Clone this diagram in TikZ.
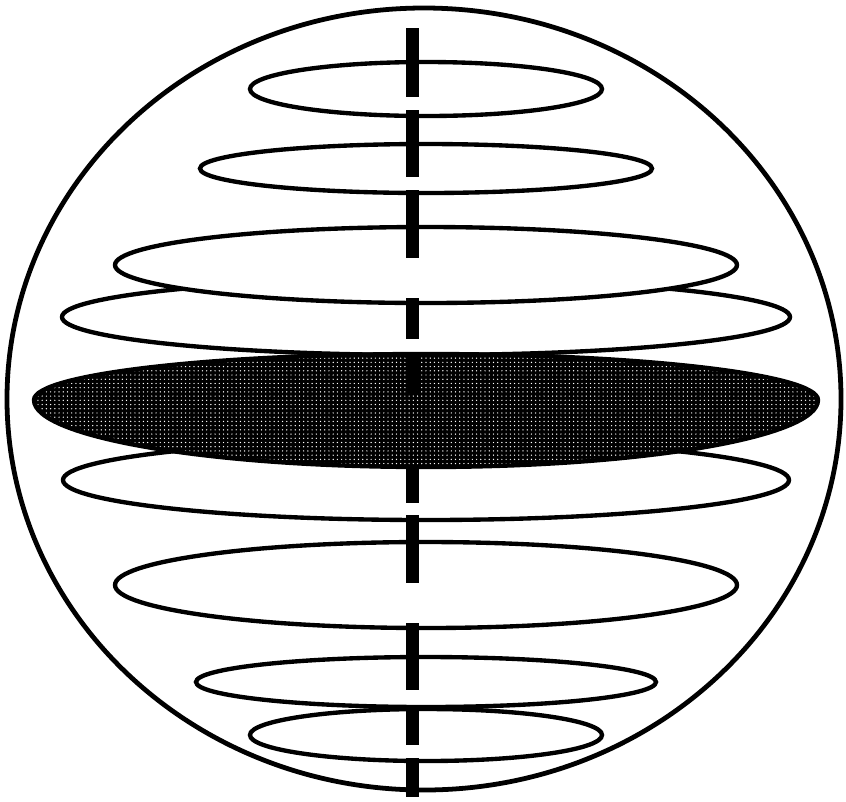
\documentclass[tikz,border=0pt]{standalone}
\usetikzlibrary{patterns}
\tikzset{
  shell/.style={draw,line width=3.4pt},
  ring/.style={draw,fill=white,line width=3.1pt},
  disk/.style={draw,line width=3.1pt,preaction={fill=black},pattern=dots,pattern color=white},
  axisbar/.style={line width=9.2pt}
}
\begin{document}
\begin{tikzpicture}[x=0.25mm,y=-0.25mm]
\useasboundingbox (0,0) rectangle (846,801);
\draw[shell] (424,399) ellipse [x radius=417, y radius=391];
% upper slices
\draw[ring] (426,89) ellipse [x radius=176, y radius=27];
\draw[ring] (426,168.5) ellipse [x radius=226, y radius=24.5];
\draw[ring] (426,317) ellipse [x radius=364, y radius=38];
\draw[ring] (426,265) ellipse [x radius=311, y radius=38];
% lower slices
\draw[ring] (426,480) ellipse [x radius=363, y radius=40];
\draw[ring] (426,585) ellipse [x radius=311, y radius=43];
\draw[ring] (426,735) ellipse [x radius=176, y radius=26];
\draw[ring] (426,682) ellipse [x radius=230, y radius=25];
% equatorial disk
\draw[disk] (34,400) arc[start angle=180,end angle=270,x radius=392,y radius=46]
  arc[start angle=270,end angle=360,x radius=392,y radius=46]
  arc[start angle=0,end angle=90,x radius=392,y radius=67]
  arc[start angle=90,end angle=180,x radius=392,y radius=67] -- cycle;
% axis
\foreach \a/\b in {28/97,110/177,190/258,298/339,353/395,469/503,515/583,623/690,705/745,758/797}
  \draw[axisbar] (412.5,\a) -- (412.5,\b);
\end{tikzpicture}
\end{document}
